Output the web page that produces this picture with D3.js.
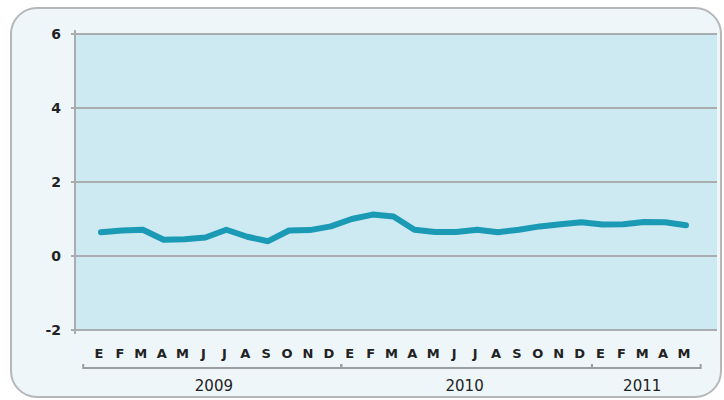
<!DOCTYPE html>
<html>
<head>
<meta charset="utf-8">
<script src="https://cdn.jsdelivr.net/npm/d3@7"></script>
<style>
  html, body { margin: 0; padding: 0; background: #ffffff; }
  svg { display: block; font-family: "DejaVu Sans", Verdana, sans-serif; }
</style>
</head>
<body>
<svg id="chart" width="724" height="400"></svg>
<script>
const months = ["E","F","M","A","M","J","J","A","S","O","N","D",
                "E","F","M","A","M","J","J","A","S","O","N","D",
                "E","F","M","A","M"];
const values = [0.64,0.69,0.71,0.44,0.45,0.50,0.71,0.52,0.40,0.69,0.70,0.80,
                1.00,1.12,1.07,0.71,0.65,0.65,0.71,0.64,0.71,0.80,0.86,0.91,
                0.85,0.86,0.92,0.91,0.83];
const years = ["2009","2010","2011"];
const yearMonthCounts = [12,12,5];
const yTicks = [-2,0,2,4,6];

const svg = d3.select("#chart");
const idx = d3.range(months.length);

const x = d3.scalePoint().domain(idx).range([101, 686]);
const y = d3.scaleLinear().domain([-2, 6]).range([330, 34]);
const step = x.step();

// outer rounded panel
svg.append("rect")
  .attr("x", 11).attr("y", 8).attr("width", 710).attr("height", 389)
  .attr("rx", 26).attr("ry", 26)
  .attr("fill", "#eef6fa").attr("stroke", "#b4b8ba").attr("stroke-width", 2);

// plot background
svg.append("rect")
  .attr("x", 75).attr("y", y(6)).attr("width", 642).attr("height", y(-2) - y(6))
  .attr("fill", "#cde9f2");

// gridlines
svg.append("g").selectAll("line").data(yTicks).join("line")
  .attr("x1", 71).attr("x2", 717)
  .attr("y1", d => y(d)).attr("y2", d => y(d))
  .attr("stroke", "#a9adaf").attr("stroke-width", 2);

// left axis line
svg.append("line")
  .attr("x1", 75).attr("x2", 75).attr("y1", y(6) - 4).attr("y2", y(-2) + 4)
  .attr("stroke", "#a9adaf").attr("stroke-width", 2);

// y labels
svg.append("g").selectAll("text").data(yTicks).join("text")
  .attr("x", 61).attr("y", d => y(d)).attr("dy", "0.36em")
  .attr("text-anchor", "end")
  .attr("font-size", 14).attr("font-weight", "bold").attr("fill", "#222")
  .text(d => d);

// line
const line = d3.line().x((d, i) => x(i)).y(d => y(d)).curve(d3.curveLinear);
svg.append("path")
  .datum(values)
  .attr("d", line)
  .attr("fill", "none")
  .attr("stroke", "#1a9ab4")
  .attr("stroke-width", 6)
  .attr("stroke-linejoin", "round")
  .attr("stroke-linecap", "round");

// month labels
svg.append("g").selectAll("text").data(idx).join("text")
  .attr("x", i => x(i) - 2).attr("y", 358)
  .attr("text-anchor", "middle")
  .attr("font-size", 13).attr("font-weight", "bold").attr("fill", "#222")
  .text(i => months[i]);

// year brackets
let start = 0;
const g = svg.append("g");
years.forEach((yr, k) => {
  const n = yearMonthCounts[k];
  const first = start, last = start + n - 1;
  const x0 = k === 0 ? x(first) - 0.85 * step : x(first) - step / 2;
  const x1 = k === years.length - 1 ? x(last) + 0.7 * step : x(last) + step / 2;
  g.append("path")
    .attr("d", `M${x0},364V368H${x1}V364`)
    .attr("fill", "none").attr("stroke", "#9a9ea0").attr("stroke-width", 2);
  g.append("text")
    .attr("x", (x(first) + x(last)) / 2 - 2).attr("y", 391)
    .attr("text-anchor", "middle")
    .attr("font-size", 15).attr("fill", "#222")
    .text(yr);
  start += n;
});
</script>
</body>
</html>
